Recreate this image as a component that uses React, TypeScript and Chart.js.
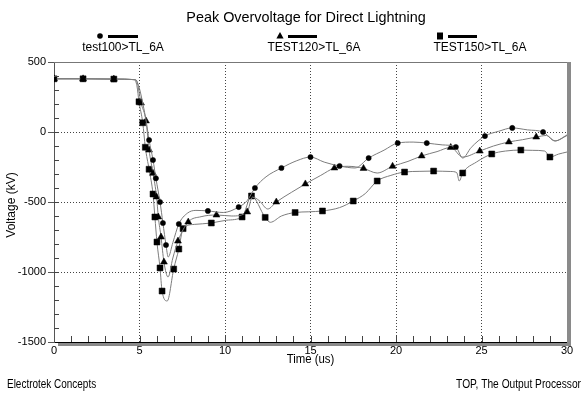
import React, { useEffect, useRef } from 'react';
import { Chart, registerables } from 'chart.js';

Chart.register(...registerables);

// ---------- text ----------
const titleText = 'Peak Overvoltage for Direct Lightning';
const seriesNames = ['test100>TL_6A', 'TEST120>TL_6A', 'TEST150>TL_6A'];
const xTitle = 'Time (us)';
const yTitle = 'Voltage (kV)';
const footLeft = 'Electrotek Concepts';
const footRight = 'TOP, The Output Processor';

// ---------- axes ----------
const xMin = 0, xMax = 30, xStep = 5, xMinor = 1;
const yMin = -1500, yMax = 500, yStep = 500, yMinor = 100;

// ---------- series: test100 (circle) ----------
const t100 = [0, 1.7, 3.5, 4.75, 4.95, 5.2, 5.4, 5.56, 5.79, 5.96, 6.2, 6.37, 6.55, 6.68, 6.95, 7.3, 7.8, 8.3, 9.0, 9.9, 10.8, 11.3, 11.75, 12.4, 13.3, 14.2, 15.0, 15.8, 16.7, 17.6, 18.4, 19.3, 20.1, 21.0, 21.8, 22.7, 23.5, 23.9, 24.4, 25.2, 26.0, 26.8, 27.7, 28.6, 29.3, 30];
const v100 = [380, 380, 378, 374, 330, 200, 70, -57, -200, -331, -500, -650, -807, -893, -790, -657, -580, -560, -564, -575, -536, -490, -400, -320, -257, -205, -179, -215, -243, -257, -186, -130, -79, -72, -79, -92, -107, -186, -110, -29, 5, 29, 15, 0, -64, -25];
const m100 = [1, 1, 1, 0, 0, 0, 0, 1, 1, 1, 1, 1, 1, 0, 0, 1, 0, 0, 1, 0, 1, 0, 1, 0, 1, 0, 1, 0, 1, 0, 1, 0, 1, 0, 1, 0, 1, 0, 0, 1, 0, 1, 0, 1, 0, 0];

// ---------- series: TEST120 (triangle) ----------
const t120 = [0, 1.7, 3.5, 4.8, 5.09, 5.38, 5.56, 5.79, 6.0, 6.1, 6.26, 6.43, 6.67, 6.95, 7.25, 7.85, 8.6, 9.5, 10.4, 11.3, 11.6, 12.0, 12.5, 13.0, 13.9, 14.7, 15.6, 16.4, 17.2, 18.1, 18.9, 19.8, 20.7, 21.5, 22.4, 23.2, 23.9, 24.9, 25.7, 26.6, 27.4, 28.2, 28.8, 29.3, 30];
const v120 = [380, 380, 378, 372, 207, 79, -129, -295, -464, -607, -750, -929, -1036, -900, -779, -643, -605, -593, -600, -571, -465, -490, -550, -500, -430, -371, -310, -257, -245, -260, -293, -245, -210, -171, -140, -110, -179, -136, -100, -71, -55, -36, -25, -64, -21];
const m120 = [1, 1, 1, 0, 1, 1, 1, 1, 1, 1, 1, 1, 0, 0, 1, 1, 0, 1, 0, 1, 0, 0, 0, 1, 0, 1, 0, 1, 0, 1, 0, 1, 0, 1, 0, 1, 0, 1, 0, 1, 0, 1, 0, 0, 0];

// ---------- series: TEST150 (square) ----------
const t150 = [0, 1.7, 3.5, 4.7, 4.85, 4.97, 5.19, 5.34, 5.56, 5.79, 5.9, 6.02, 6.2, 6.32, 6.62, 7.0, 7.3, 7.55, 8.2, 9.2, 10.1, 11.0, 11.55, 12.35, 12.65, 13.3, 14.1, 14.9, 15.7, 16.7, 17.5, 18.2, 18.9, 19.7, 20.5, 21.4, 22.2, 23.2, 23.55, 23.7, 23.9, 24.7, 25.6, 26.4, 27.3, 28.0, 28.7, 29.0, 29.5, 30];
const v150 = [380, 380, 378, 374, 330, 216, 66, -109, -266, -443, -607, -786, -971, -1136, -1207, -979, -836, -690, -660, -650, -630, -607, -457, -610, -645, -600, -575, -570, -564, -540, -493, -440, -350, -310, -286, -281, -279, -282, -290, -350, -293, -215, -157, -136, -129, -131, -136, -179, -158, -143];
const m150 = [1, 1, 1, 0, 0, 1, 1, 1, 1, 1, 1, 1, 1, 1, 0, 1, 1, 1, 0, 1, 0, 1, 1, 1, 0, 0, 1, 0, 1, 0, 1, 0, 1, 0, 1, 0, 1, 0, 0, 0, 1, 0, 1, 0, 1, 0, 0, 1, 0, 0];

const FONT = '"Liberation Sans", Arial, sans-serif';

function pts(t: number[], v: number[]) {
  return t.map((x, i) => ({ x, y: v[i] }));
}

function drawMarker(ctx: CanvasRenderingContext2D, style: string, x: number, y: number) {
  ctx.fillStyle = '#000';
  ctx.beginPath();
  if (style === 'circle') {
    ctx.arc(x, y, 2.8, 0, Math.PI * 2);
  } else if (style === 'triangle') {
    ctx.moveTo(x, y - 4);
    ctx.lineTo(x + 3.6, y + 2.6);
    ctx.lineTo(x - 3.6, y + 2.6);
    ctx.closePath();
  } else {
    ctx.rect(x - 3, y - 3.5, 6, 7);
  }
  ctx.fill();
}

function text(ctx: CanvasRenderingContext2D, s: string, x: number, y: number, size: number, align: CanvasTextAlign, sx: number, rot = 0) {
  ctx.save();
  ctx.translate(x, y);
  if (rot) ctx.rotate(rot);
  ctx.scale(sx, 1);
  ctx.font = `${size}px ${FONT}`;
  ctx.textAlign = align;
  ctx.textBaseline = 'middle';
  ctx.fillStyle = '#000';
  ctx.fillText(s, 0, 0);
  ctx.restore();
}

const legendLayout = [
  { style: 'circle', mx: 100, lx1: 108, lx2: 138, tx: 123 },
  { style: 'triangle', mx: 280, lx1: 288, lx2: 317, tx: 314 },
  { style: 'rect', mx: 440, lx1: 448, lx2: 477, tx: 480 },
];

const overlay = {
  id: 'overlay',
  afterDraw(chart: any) {
    const { ctx, chartArea: a, scales } = chart;
    const xs = scales.x, ys = scales.y;
    ctx.save();
    // top border
    ctx.strokeStyle = '#777';
    ctx.lineWidth = 1;
    ctx.beginPath();
    ctx.moveTo(a.left, a.top + 0.5);
    ctx.lineTo(a.right, a.top + 0.5);
    ctx.stroke();
    // 3D shadow right and bottom
    ctx.fillStyle = '#8a8a8a';
    ctx.fillRect(a.right, a.top, 4, a.bottom - a.top + 4);
    ctx.fillRect(a.left + 4, a.bottom + 1, a.right - a.left - 4, 3);
    // minor ticks
    ctx.strokeStyle = '#444';
    ctx.beginPath();
    for (let v = yMin + yMinor; v < yMax; v += yMinor) {
      const py = Math.round(ys.getPixelForValue(v)) + 0.5;
      ctx.moveTo(a.left, py);
      ctx.lineTo(a.left + 5, py);
    }
    for (let v = xMin + xMinor; v < xMax; v += xMinor) {
      const px = Math.round(xs.getPixelForValue(v)) + 0.5;
      ctx.moveTo(px, a.bottom);
      ctx.lineTo(px, a.bottom - 6);
    }
    ctx.stroke();
    // title
    text(ctx, titleText, 306, 18, 15, 'center', 0.96);
    // legend
    legendLayout.forEach((l, i) => {
      drawMarker(ctx, l.style, l.mx, 36);
      ctx.fillStyle = '#000';
      ctx.fillRect(l.lx1, 35, l.lx2 - l.lx1, 3);
      text(ctx, seriesNames[i], l.tx, 48, 12, 'center', 1);
    });
    // axis titles
    text(ctx, xTitle, (a.left + a.right) / 2, 360, 12, 'center', 0.95);
    text(ctx, yTitle, 12, 205, 12, 'center', 1, -Math.PI / 2);
    // footers
    text(ctx, footLeft, 7, 385, 12, 'left', 0.83);
    text(ctx, footRight, 581, 385, 12, 'right', 0.85);
    ctx.restore();
  },
};

export default function App() {
  const ref = useRef<HTMLCanvasElement>(null);
  useEffect(() => {
    if (!ref.current) return;
    const mk = (flags: number[], r: number) => (c: any) => (flags[c.dataIndex] ? r : 0);
    const common = {
      borderColor: '#7c7c7c',
      borderWidth: 1,
      pointBackgroundColor: '#000',
      pointBorderColor: '#000',
      pointBorderWidth: 0.5,
      cubicInterpolationMode: 'monotone',
      fill: false,
    };
    const chart = new Chart(ref.current, {
      type: 'line',
      data: {
        datasets: [
          { ...common, label: seriesNames[0], data: pts(t100, v100), pointStyle: 'circle', pointRadius: mk(m100, 2.6) },
          { ...common, label: seriesNames[1], data: pts(t120, v120), pointStyle: 'triangle', pointRadius: mk(m120, 4) },
          { ...common, label: seriesNames[2], data: pts(t150, v150), pointStyle: 'rect', pointRadius: mk(m150, 4.2) },
        ] as any,
      },
      options: {
        animation: false,
        responsive: false,
        devicePixelRatio: 1,
        events: [],
        layout: { padding: { left: 0, top: 62, right: 14, bottom: 0 } },
        plugins: { legend: { display: false }, title: { display: false }, tooltip: { enabled: false } },
        scales: {
          x: {
            type: 'linear',
            min: xMin,
            max: xMax,
            afterFit: (s: any) => { s.height = 57; s.paddingLeft = 0; s.paddingRight = 0; },
            ticks: { stepSize: xStep, color: '#000', font: { family: FONT, size: 11 }, padding: 2, maxRotation: 0, callback: (v: any) => String(v) },
            grid: {
              drawTicks: false,
              color: (c: any) => (c.tick && (c.tick.value === xMin || c.tick.value === xMax) ? 'rgba(0,0,0,0)' : '#444'),
              lineWidth: 1,
            },
            border: { display: true, color: '#000', width: 1, dash: [1, 2] },
          },
          y: {
            type: 'linear',
            min: yMin,
            max: yMax,
            afterFit: (s: any) => { s.width = 54; s.paddingTop = 0; s.paddingBottom = 0; },
            ticks: { stepSize: yStep, color: '#000', font: { family: FONT, size: 11 }, padding: 2, callback: (v: any) => String(v) },
            grid: {
              drawTicks: true,
              tickLength: 6,
              tickColor: '#555',
              tickBorderDash: [],
              color: (c: any) => (c.tick && (c.tick.value === yMin || c.tick.value === yMax) ? 'rgba(0,0,0,0)' : '#444'),
              lineWidth: 1,
            },
            border: { display: true, color: '#555', width: 1, dash: [1, 2] },
          },
        },
      } as any,
      plugins: [overlay],
    });
    return () => chart.destroy();
  }, []);
  return (
    <div style={{ position: 'absolute', left: 0, top: 0, width: 581, height: 399, background: '#fff' }}>
      <canvas ref={ref} width={581} height={399} style={{ display: 'block' }} />
    </div>
  );
}
